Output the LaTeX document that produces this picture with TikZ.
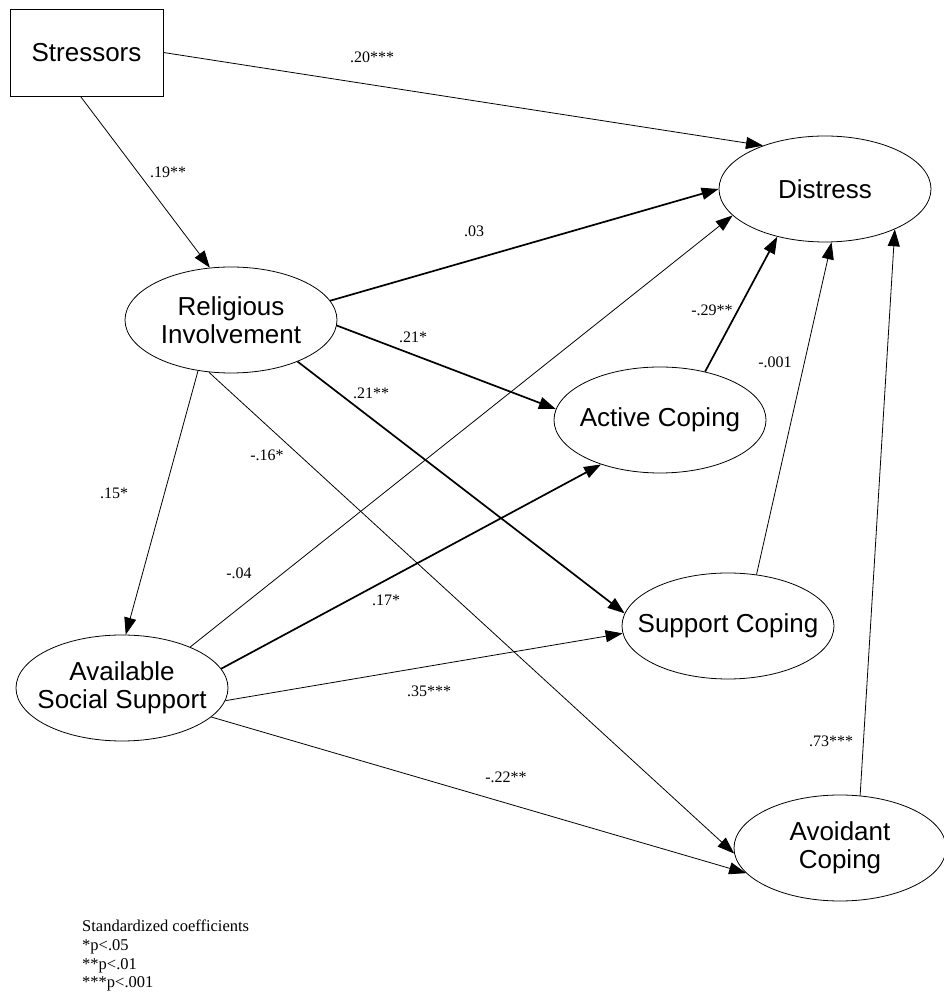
\documentclass[tikz,border=0pt]{standalone}
\usepackage{fontspec}
\setmainfont{Liberation Serif}
\newfontfamily\nodefont{Liberation Sans}
\usetikzlibrary{arrows.meta,shapes.geometric}
\tikzset{
  var/.style={ellipse,draw,line width=0.8pt,minimum width=212pt,minimum height=106pt,inner xsep=-25pt,inner ysep=0pt,align=center,font=\fontsize{26}{28}\selectfont\nodefont},
  boxvar/.style={rectangle,draw,line width=0.8pt,minimum width=153pt,minimum height=87pt,inner sep=0pt,font=\fontsize{26}{28}\selectfont\nodefont},
  thinpath/.style={line width=0.8pt,-{Triangle[length=17pt,width=12pt]}},
  thickpath/.style={line width=1.7pt,-{Triangle[length=17pt,width=12pt]}},
  coef/.style={font=\fontsize{16}{19}\selectfont,inner sep=0pt}
}
\begin{document}
\begin{tikzpicture}[x=1pt,y=1pt]
\useasboundingbox (0,0) rectangle (943,999);
\node[boxvar] (str) at (86.5,946.5) {Stressors};
\node[var] (dis) at (825,810) {Distress};
\node[var] (rel) at (231,679) {Religious\\Involvement};
\node[var] (ava) at (122,311) {Available\\Social Support};
\node[var] (act) at (660,579) {Active Coping};
\node[var] (sup) at (728,373) {Support Coping};
\node[var] (avo) at (840,151) {Avoidant\\Coping};

\draw[thinpath] (str.east) -- (dis.145);
\draw[thinpath] ([xshift=-6pt]str.south) -- (rel.112);
\draw[thickpath] (rel.11) -- (dis.180);
\draw[thickpath] (rel.-3) -- (act.174);
\draw[thickpath] (rel.-32) -- (sup.173);
\draw[thinpath] (rel.237) -- (ava.86);
\draw[thinpath] (rel.247) -- (avo.183);
\draw[thinpath] (ava.31) -- (dis.196);
\draw[thickpath] (ava.11) -- (act.217);
\draw[thinpath] (ava.-7) -- (sup.184);
\draw[thinpath] (ava.-18) -- (avo.195);
\draw[thickpath] (act.47) -- (dis.225);
\draw[thinpath] (sup.61) -- (dis.277);
\draw[thinpath] (avo.69) -- (dis.330);

\node[coef] (l1) at (372,942) {.20***};
\node[coef] (l2) at (168,827) {.19**};
\node[coef] (l3) at (474,768) {.03};
\node[coef] (l4) at (413,662) {.21*};
\node[coef] (l5) at (371,606) {.21**};
\node[coef] (l6) at (267,544) {-.16*};
\node[coef] (l7) at (114,506) {.15*};
\node[coef] (l8) at (239,426) {-.04};
\node[coef] (l9) at (386,399) {.17*};
\node[coef] (l10) at (429,308) {.35***};
\node[coef] (l11) at (506,222) {-.22**};
\node[coef] (l12) at (831,258) {.73***};
\node[coef] (l13) at (712,689) {-.29**};
\node[coef] (l14) at (775,637) {-.001};

\node[coef,font=\fontsize{16.5}{18.7}\selectfont,anchor=base west,align=left] (leg) at (82,11) {Standardized coefficients\\*p<.05\\**p<.01\\***p<.001};
\end{tikzpicture}
\end{document}
